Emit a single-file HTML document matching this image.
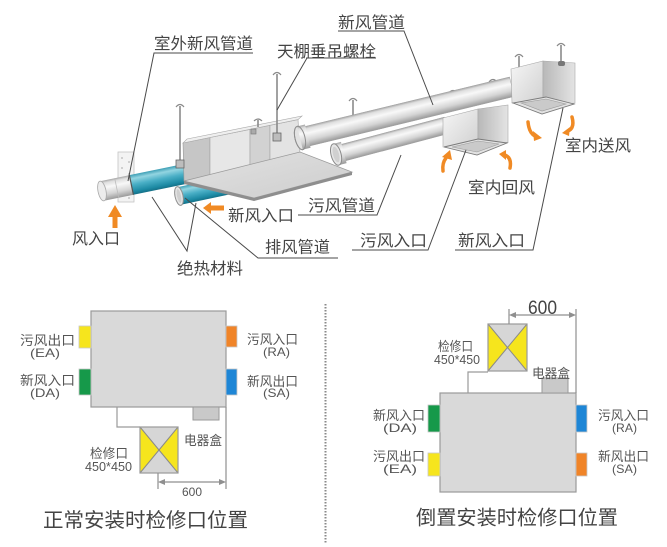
<!DOCTYPE html>
<html><head><meta charset="utf-8">
<style>
html,body{margin:0;padding:0;background:#fff;}
svg{display:block;}
text{font-family:"Liberation Sans","Noto Sans CJK SC",sans-serif;}
</style></head><body>
<svg width="667" height="547" viewBox="0 0 667 547" xmlns="http://www.w3.org/2000/svg">
<defs>
<linearGradient id="gp" x1="0" y1="0" x2="0" y2="1">
 <stop offset="0" stop-color="#a4a4a4"/>
 <stop offset="0.12" stop-color="#dedede"/>
 <stop offset="0.35" stop-color="#f8f8f8"/>
 <stop offset="0.7" stop-color="#d4d4d4"/>
 <stop offset="1" stop-color="#9a9a9a"/>
</linearGradient>
<linearGradient id="gt" x1="0" y1="0" x2="0" y2="1">
 <stop offset="0" stop-color="#3d9fb5"/>
 <stop offset="0.2" stop-color="#93d5e1"/>
 <stop offset="0.5" stop-color="#4aafc6"/>
 <stop offset="0.85" stop-color="#1c89a3"/>
 <stop offset="1" stop-color="#156f86"/>
</linearGradient>
<linearGradient id="gf" x1="0" y1="0" x2="1" y2="1">
 <stop offset="0" stop-color="#f6f6f6"/>
 <stop offset="1" stop-color="#cfcfcf"/>
</linearGradient>
<linearGradient id="gs" x1="0" y1="0" x2="1" y2="0">
 <stop offset="0" stop-color="#b8b8b8"/>
 <stop offset="1" stop-color="#e4e4e4"/>
</linearGradient>
<linearGradient id="gplate" x1="0" y1="0" x2="1" y2="1">
 <stop offset="0" stop-color="#e2e2e2"/>
 <stop offset="1" stop-color="#cdcdcd"/>
</linearGradient>
</defs>

<!-- ============ TOP ILLUSTRATION ============ -->
<!-- wall bracket -->
<rect x="118" y="152" width="16" height="50" fill="#f3f3f3" stroke="#c4c4c4" stroke-width="0.8"/>
<g fill="#b5b5b5">
<circle cx="122" cy="158" r="0.9"/><circle cx="129" cy="162" r="0.9"/><circle cx="122" cy="168" r="0.9"/>
<circle cx="129" cy="174" r="0.9"/><circle cx="122" cy="180" r="0.9"/><circle cx="129" cy="188" r="0.9"/>
<circle cx="122" cy="194" r="0.9"/><circle cx="129" cy="198" r="0.9"/>
</g>

<!-- pipe A (outdoor fresh) -->
<g transform="translate(102,191) rotate(-11.6)">
 <rect x="0" y="-10" width="30" height="20" fill="url(#gp)"/>
 <rect x="30" y="-10" width="56" height="20" fill="url(#gt)"/>
 <line x1="30" y1="-10" x2="30" y2="10" stroke="#555" stroke-width="1.2"/>
 <line x1="15" y1="-10" x2="15" y2="10" stroke="#bbb" stroke-width="0.8"/>
 <ellipse cx="0" cy="0" rx="4" ry="10" fill="#ececec" stroke="#aaa" stroke-width="0.8"/>
</g>
<!-- pipe B (exhaust) -->
<g transform="translate(179,196) rotate(-12)">
 <rect x="0" y="-9" width="62" height="18" fill="url(#gt)"/>
 <ellipse cx="0" cy="0" rx="4" ry="9.5" fill="#e6e6e6" stroke="#8f8f8f" stroke-width="1"/>
 <ellipse cx="0" cy="0" rx="2" ry="7" fill="#cfcfcf"/>
</g>

<!-- unit body -->
<polygon points="183,143 210,137.5 210,175 184,181" fill="#c6c6c6" stroke="#9a9a9a" stroke-width="0.6"/>
<polygon points="210,137.5 250,129.4 250,165.5 210,175" fill="#e7e7e7" stroke="#a5a5a5" stroke-width="0.6"/>
<polygon points="250,129.4 270,125.3 270,160.8 250,165.5" fill="#d2d2d2" stroke="#a5a5a5" stroke-width="0.6"/>
<polygon points="270,125.3 298,119.6 300,153.7 270,160.8" fill="#e3e3e3" stroke="#a5a5a5" stroke-width="0.6"/>
<polygon points="183,143 298,119.6 302,116 187,139" fill="#efefef" stroke="#a8a8a8" stroke-width="0.6"/>
<!-- plate -->
<polygon points="184,181 254,198 352,172 300,152" fill="url(#gplate)" stroke="#9a9a9a" stroke-width="0.8"/>
<polygon points="184,181 254,198 352,172 352,175 254,201 184,184" fill="#8e8e8e"/>

<!-- rods left -->
<g stroke="#8a8a8a" stroke-width="1.6" fill="none">
 <line x1="180" y1="106" x2="180" y2="164"/>
 <path d="M176,107 Q180,102 184,107" stroke-width="1.2"/>
 <line x1="277" y1="74" x2="277" y2="138"/>
 <path d="M273,75 Q277,70 281,75" stroke-width="1.2"/>
 <line x1="258" y1="120" x2="258" y2="127"/>
 <path d="M254,121 Q258,117 262,121" stroke-width="1.2"/>
 <line x1="353" y1="100" x2="353" y2="118"/>
 <path d="M349,101 Q353,96 357,101" stroke-width="1.2"/>
 <line x1="453" y1="92" x2="453" y2="97"/>
 <path d="M449,93 Q453,88 457,93" stroke-width="1.2"/>
 <line x1="493" y1="81" x2="493" y2="86"/>
 <path d="M489,82 Q493,77 497,82" stroke-width="1.2"/>
 <line x1="519" y1="56" x2="519" y2="68"/>
 <path d="M515,57 Q519,52 523,57" stroke-width="1.2"/>
 <line x1="561" y1="45" x2="561" y2="62"/>
 <path d="M557,46 Q561,41 565,46" stroke-width="1.2"/>
</g>
<rect x="176" y="160" width="8" height="8" fill="#bdbdbd" stroke="#666" stroke-width="0.8"/>
<rect x="273" y="133" width="8" height="8" fill="#bdbdbd" stroke="#666" stroke-width="0.8"/>
<rect x="251" y="129" width="5" height="5" fill="#aaa" stroke="#777" stroke-width="0.6"/>

<!-- pipe C (main fresh air) -->
<g transform="translate(300,138) rotate(-13.6)">
 <rect x="0" y="-10" width="218" height="20" fill="url(#gp)" stroke="#a0a0a0" stroke-width="0.5"/>
 <ellipse cx="0" cy="0" rx="5" ry="12" fill="#e2e2e2" stroke="#8f8f8f" stroke-width="1"/>
 <rect x="0" y="-12" width="8" height="24" fill="url(#gp)"/>
 <ellipse cx="0" cy="0" rx="5" ry="12" fill="none" stroke="#8f8f8f" stroke-width="1"/>
</g>
<!-- pipe D (return) -->
<g transform="translate(338,154) rotate(-14.8)">
 <rect x="0" y="-8.5" width="112" height="17" fill="url(#gp)" stroke="#a0a0a0" stroke-width="0.5"/>
 <rect x="-2" y="-11" width="8" height="22" fill="url(#gp)"/>
 <ellipse cx="-2" cy="0" rx="5" ry="11" fill="#e6e6e6" stroke="#8a8a8a" stroke-width="1"/>
 <ellipse cx="-2" cy="0" rx="3" ry="8" fill="#d0d0d0"/>
</g>

<!-- return box -->
<polygon points="443,118 478,109 478,150 443,147" fill="url(#gf)" stroke="#a8a8a8" stroke-width="0.6"/>
<polygon points="478,109 508,105 508,142 478,150" fill="url(#gs)" stroke="#a8a8a8" stroke-width="0.6"/>
<polygon points="444,147 477,155 507,143 478,139" fill="#e2e2e2" stroke="#7a7a7a" stroke-width="0.9"/>
<polygon points="452,147 477,152 499,144 478,141" fill="#cacaca" stroke="#999" stroke-width="0.6"/>

<!-- supply box -->
<polygon points="511,69 543,61 543,107 512,103" fill="url(#gf)" stroke="#a8a8a8" stroke-width="0.6"/>
<polygon points="543,61 575,63 575,103 543,107" fill="url(#gs)" stroke="#a8a8a8" stroke-width="0.6"/>
<polygon points="513,103 542,114 574,104 546,97" fill="#e2e2e2" stroke="#7a7a7a" stroke-width="0.9"/>
<polygon points="521,103 542,111 566,104 546,99" fill="#cacaca" stroke="#999" stroke-width="0.6"/>
<rect x="558" y="61" width="7" height="5" rx="2" fill="#777"/>

<!-- orange arrows -->
<g fill="#f08a24">
 <polygon points="108,217 122,217 115,205"/>
 <rect x="112.5" y="216" width="5" height="12"/>
 <polygon points="203,208 211,202 211,214"/>
 <rect x="210" y="205.5" width="14" height="5"/>
</g>
<g stroke="#f08a24" stroke-width="3.5" fill="none" stroke-linecap="round">
 <path d="M443,171 Q442,163 446,158"/>
 <path d="M510,168 Q512,158 505,155"/>
 <path d="M528,122 Q529,133 535,136"/>
 <path d="M572,117 Q575,128 568,131"/>
</g>
<g fill="#f08a24">
 <polygon points="442,157 452,160 450,150"/>
 <polygon points="506,150 506,160 499,154"/>
 <polygon points="533,131 534,141 542,138"/>
 <polygon points="570,127 569,136 562,133"/>
</g>

<!-- leader lines -->
<g stroke="#4a4a4a" stroke-width="1" fill="none">
 <polyline points="253,53 154,53 128,181"/>
 <polyline points="376,58 307,58 277,110"/>
 <polyline points="338,31 404,31 433,105"/>
 <polyline points="298,215 377,215 401,155"/>
 <polyline points="338,258 258,258 185,198"/>
 <polyline points="152,197 187,251 196,203"/>
 <polyline points="352,250 428,250 466,150"/>
 <polyline points="455,250 533,250 563,108"/>
</g>

<!-- top labels -->
<g fill="#444" font-size="16">
 <text x="154" y="49" textLength="99" lengthAdjust="spacingAndGlyphs">室外新风管道</text>
 <text x="277" y="57" textLength="99" lengthAdjust="spacingAndGlyphs">天棚垂吊螺栓</text>
 <text x="338" y="28" textLength="67" lengthAdjust="spacingAndGlyphs">新风管道</text>
 <text x="72" y="244" textLength="48" lengthAdjust="spacingAndGlyphs">风入口</text>
 <text x="228" y="221" textLength="66" lengthAdjust="spacingAndGlyphs">新风入口</text>
 <text x="308" y="211" textLength="67" lengthAdjust="spacingAndGlyphs">污风管道</text>
 <text x="265" y="252.5" textLength="65" lengthAdjust="spacingAndGlyphs">排风管道</text>
 <text x="177" y="274" textLength="66" lengthAdjust="spacingAndGlyphs">绝热材料</text>
 <text x="360" y="246" textLength="67" lengthAdjust="spacingAndGlyphs">污风入口</text>
 <text x="458" y="246" textLength="67" lengthAdjust="spacingAndGlyphs">新风入口</text>
 <text x="468" y="193" textLength="67" lengthAdjust="spacingAndGlyphs">室内回风</text>
 <text x="565" y="151" textLength="66" lengthAdjust="spacingAndGlyphs">室内送风</text>
</g>

<!-- separator -->
<line x1="325.5" y1="304" x2="325.5" y2="544" stroke="#8a8a8a" stroke-width="2" stroke-dasharray="1.5 1.5"/>

<!-- ============ BOTTOM LEFT ============ -->
<rect x="91" y="311" width="135" height="96" fill="#d9d9d9" stroke="#9a9a9a" stroke-width="1.2"/>
<rect x="79" y="326" width="12" height="22" fill="#f6e51d" stroke="#c8c8c8" stroke-width="0.8"/>
<rect x="79" y="369" width="12" height="26" fill="#16994a" stroke="#c8c8c8" stroke-width="0.8"/>
<rect x="226" y="326" width="11" height="21" fill="#f08428" stroke="#c8c8c8" stroke-width="0.8"/>
<rect x="226" y="369" width="11" height="26" fill="#1e86d6" stroke="#c8c8c8" stroke-width="0.8"/>
<rect x="193" y="407" width="26" height="13" fill="#c9c9c9" stroke="#9a9a9a" stroke-width="1"/>
<polyline points="117,407 117,427 140,427" fill="none" stroke="#9a9a9a" stroke-width="1.2"/>
<rect x="140" y="427" width="38" height="46" fill="#d6d6d6"/>
<polygon points="140,427 159,450 140,473" fill="#f6e51d"/>
<polygon points="178,427 159,450 178,473" fill="#f6e51d"/>
<line x1="140" y1="427" x2="178" y2="473" stroke="#8a8a8a" stroke-width="1"/>
<line x1="178" y1="427" x2="140" y2="473" stroke="#8a8a8a" stroke-width="1"/>
<rect x="140" y="427" width="38" height="46" fill="none" stroke="#9a9a9a" stroke-width="1.2"/>
<g stroke="#8f8f8f" stroke-width="1.2">
 <line x1="226" y1="407" x2="226" y2="489"/>
 <line x1="158" y1="473" x2="158" y2="489"/>
 <line x1="163" y1="482" x2="221" y2="482"/>
</g>
<polygon points="158,482 165,479 165,485" fill="#8f8f8f"/>
<polygon points="226,482 219,479 219,485" fill="#8f8f8f"/>

<g fill="#555">
 <text x="20" y="345" font-size="13" textLength="55" lengthAdjust="spacingAndGlyphs">污风出口</text>
 <text x="30" y="357" font-size="12" textLength="30" lengthAdjust="spacingAndGlyphs">(EA)</text>
 <text x="20" y="385" font-size="13" textLength="55" lengthAdjust="spacingAndGlyphs">新风入口</text>
 <text x="30" y="397" font-size="12" textLength="30" lengthAdjust="spacingAndGlyphs">(DA)</text>
 <text x="247" y="344" font-size="13" textLength="51" lengthAdjust="spacingAndGlyphs">污风入口</text>
 <text x="263" y="356" font-size="12" textLength="27" lengthAdjust="spacingAndGlyphs">(RA)</text>
 <text x="247" y="386" font-size="13" textLength="51" lengthAdjust="spacingAndGlyphs">新风出口</text>
 <text x="263" y="397" font-size="12" textLength="27" lengthAdjust="spacingAndGlyphs">(SA)</text>
 <text x="184" y="445" font-size="13" textLength="38" lengthAdjust="spacingAndGlyphs">电器盒</text>
 <text x="90" y="458" font-size="13" textLength="38" lengthAdjust="spacingAndGlyphs">检修口</text>
 <text x="85" y="471" font-size="13" textLength="47" lengthAdjust="spacingAndGlyphs">450*450</text>
 <text x="182" y="496" font-size="12" textLength="20" lengthAdjust="spacingAndGlyphs">600</text>
</g>
<text x="43" y="527" font-size="20" fill="#444" textLength="205" lengthAdjust="spacingAndGlyphs">正常安装时检修口位置</text>

<!-- ============ BOTTOM RIGHT ============ -->
<rect x="440" y="393" width="136" height="99" fill="#d9d9d9" stroke="#9a9a9a" stroke-width="1.2"/>
<rect x="428" y="405" width="12" height="27" fill="#16994a" stroke="#c8c8c8" stroke-width="0.8"/>
<rect x="428" y="453" width="12" height="23" fill="#f6e51d" stroke="#c8c8c8" stroke-width="0.8"/>
<rect x="576" y="405" width="11" height="27" fill="#1e86d6" stroke="#c8c8c8" stroke-width="0.8"/>
<rect x="576" y="453" width="11" height="23" fill="#f08428" stroke="#c8c8c8" stroke-width="0.8"/>
<rect x="542" y="378" width="26" height="15" fill="#c9c9c9" stroke="#9a9a9a" stroke-width="1"/>
<polyline points="468,393 468,372 488,372" fill="none" stroke="#9a9a9a" stroke-width="1.2"/>
<rect x="488" y="324" width="39" height="47" fill="#d6d6d6"/>
<polygon points="488,324 507.5,347.5 488,371" fill="#f6e51d"/>
<polygon points="527,324 507.5,347.5 527,371" fill="#f6e51d"/>
<line x1="488" y1="324" x2="527" y2="371" stroke="#8a8a8a" stroke-width="1"/>
<line x1="527" y1="324" x2="488" y2="371" stroke="#8a8a8a" stroke-width="1"/>
<rect x="488" y="324" width="39" height="47" fill="none" stroke="#9a9a9a" stroke-width="1.2"/>
<g stroke="#8f8f8f" stroke-width="1.2">
 <line x1="576" y1="393" x2="576" y2="309"/>
 <line x1="509" y1="324" x2="509" y2="309"/>
 <line x1="514" y1="315" x2="571" y2="315"/>
</g>
<polygon points="509,315 516,312 516,318" fill="#8f8f8f"/>
<polygon points="576,315 569,312 569,318" fill="#8f8f8f"/>

<g fill="#555">
 <text x="373" y="420" font-size="13" textLength="52" lengthAdjust="spacingAndGlyphs">新风入口</text>
 <text x="383" y="432" font-size="12" textLength="34" lengthAdjust="spacingAndGlyphs">(DA)</text>
 <text x="373" y="461" font-size="13" textLength="52" lengthAdjust="spacingAndGlyphs">污风出口</text>
 <text x="383" y="473" font-size="12" textLength="34" lengthAdjust="spacingAndGlyphs">(EA)</text>
 <text x="598" y="420" font-size="13" textLength="51" lengthAdjust="spacingAndGlyphs">污风入口</text>
 <text x="612" y="432" font-size="12" textLength="25" lengthAdjust="spacingAndGlyphs">(RA)</text>
 <text x="598" y="461" font-size="13" textLength="51" lengthAdjust="spacingAndGlyphs">新风出口</text>
 <text x="612" y="473" font-size="12" textLength="25" lengthAdjust="spacingAndGlyphs">(SA)</text>
 <text x="532" y="378" font-size="13" textLength="38" lengthAdjust="spacingAndGlyphs">电器盒</text>
 <text x="438" y="351" font-size="13" textLength="35" lengthAdjust="spacingAndGlyphs">检修口</text>
 <text x="434" y="364" font-size="13" textLength="46" lengthAdjust="spacingAndGlyphs">450*450</text>
 <text x="528" y="314" font-size="19" fill="#444" textLength="29" lengthAdjust="spacingAndGlyphs">600</text>
</g>
<text x="416" y="524.5" font-size="20" fill="#444" textLength="202" lengthAdjust="spacingAndGlyphs">倒置安装时检修口位置</text>
</svg>
</body></html>
